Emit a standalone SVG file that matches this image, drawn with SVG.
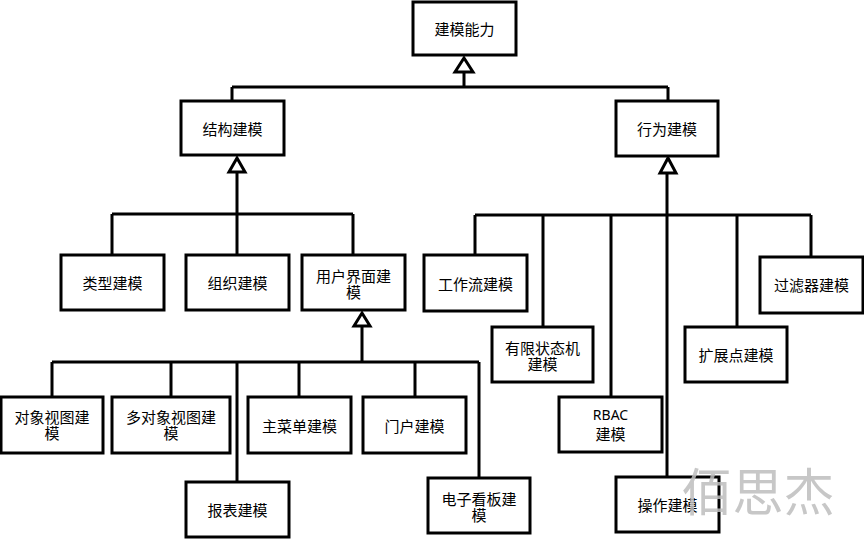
<svg xmlns="http://www.w3.org/2000/svg" width="864" height="542" viewBox="0 0 864 542">
<style>
.box{fill:#fff;stroke:#000;stroke-width:3}
.t{font-family:"Noto Sans CJK SC","Noto Sans",sans-serif;font-size:15px;fill:#000;text-anchor:middle;dominant-baseline:central}
.r{font-family:"Noto Sans","Open Sans",sans-serif;font-size:14px;fill:#000;text-anchor:middle;dominant-baseline:central}
.c{fill:none;stroke:#000;stroke-width:3}
.tri{fill:#fff;stroke:#000;stroke-width:3;stroke-linejoin:miter}
.wm{font-family:"Noto Sans CJK SC",sans-serif;font-size:51px;fill:#bdbdbd;fill-opacity:0.85;text-anchor:middle;dominant-baseline:central}
</style>
<rect width="864" height="542" fill="#fff"/>
<g id="connectors">
<path class="c" d="M464 72V87M232 87H668M232 87V101M668 87V101"/>
<path class="c" d="M237 172V214M112 214H353M112 214V255M237 214V255M353 214V255"/>
<path class="c" d="M362 326V362M52 362H479M52 362V397M171 362V397M237 362V482M299 362V397M415 362V397M479 362V478"/>
<path class="c" d="M667 173V477M475 215H811M475 215V255M543 215V327M611 215V397M737 215V327M811 215V257"/>
</g>
<g id="n0"><rect class="box" x="413" y="2" width="103" height="53"/><text class="t" x="464.5" y="28">建模能力</text></g>
<g id="n1"><rect class="box" x="181" y="101" width="103" height="54"/><text class="t" x="232.5" y="128">结构建模</text></g>
<g id="n2"><rect class="box" x="616" y="101" width="102" height="55"/><text class="t" x="667" y="128">行为建模</text></g>
<g id="n3"><rect class="box" x="61" y="255" width="103" height="55"/><text class="t" x="112.5" y="282">类型建模</text></g>
<g id="n4"><rect class="box" x="186" y="255" width="103" height="55"/><text class="t" x="237.5" y="282">组织建模</text></g>
<g id="n5"><rect class="box" x="302" y="255" width="103" height="55"/><text class="t" x="353.5" y="275">用户界面建</text><text class="t" x="353.5" y="291">模</text></g>
<g id="n6"><rect class="box" x="1" y="397" width="102" height="56"/><text class="t" x="52" y="416">对象视图建</text><text class="t" x="52" y="432">模</text></g>
<g id="n7"><rect class="box" x="112" y="397" width="118" height="56"/><text class="t" x="171" y="416">多对象视图建</text><text class="t" x="171" y="432">模</text></g>
<g id="n8"><rect class="box" x="248" y="397" width="103" height="56"/><text class="t" x="299.5" y="425">主菜单建模</text></g>
<g id="n9"><rect class="box" x="363" y="397" width="103" height="56"/><text class="t" x="414.5" y="425">门户建模</text></g>
<g id="n10"><rect class="box" x="186" y="482" width="103" height="55"/><text class="t" x="237.5" y="509">报表建模</text></g>
<g id="n11"><rect class="box" x="428" y="478" width="102" height="55"/><text class="t" x="479" y="498">电子看板建</text><text class="t" x="479" y="514">模</text></g>
<g id="n12"><rect class="box" x="424" y="255" width="103" height="56"/><text class="t" x="475.5" y="283">工作流建模</text></g>
<g id="n13"><rect class="box" x="492" y="327" width="101" height="55"/><text class="t" x="542.5" y="347">有限状态机</text><text class="t" x="542.5" y="363">建模</text></g>
<g id="n14"><rect class="box" x="559" y="397" width="103" height="55"/><text class="r" x="610.5" y="414">RBAC</text><text class="t" x="610.5" y="433">建模</text></g>
<g id="n15"><rect class="box" x="616" y="477" width="103" height="55"/><text class="t" x="667.5" y="504">操作建模</text></g>
<g id="n16"><rect class="box" x="685" y="327" width="102" height="55"/><text class="t" x="736" y="354">扩展点建模</text></g>
<g id="n17"><rect class="box" x="760" y="257" width="103" height="56"/><text class="t" x="811.5" y="284">过滤器建模</text></g>
<g id="arrows">
<path class="tri" d="M464 58L473 72H455Z"/>
<path class="tri" d="M237 158L245 172H229Z"/>
<path class="tri" d="M668 158L676 173H660Z"/>
<path class="tri" d="M362 313L370 326H354Z"/>
</g>
<text class="wm" x="758" y="489">佰思杰</text>
</svg>
